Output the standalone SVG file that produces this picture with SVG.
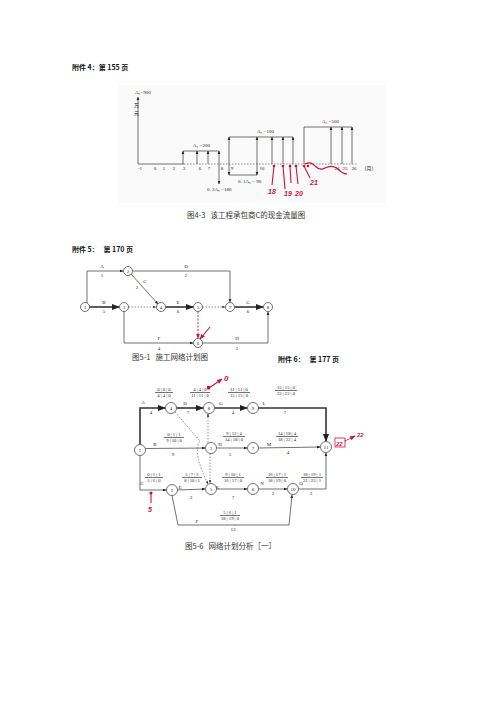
<svg xmlns="http://www.w3.org/2000/svg" width="496" height="702" viewBox="0 0 496 702">
<defs>
<marker id="ah" viewBox="0 0 10 10" refX="9" refY="5" markerWidth="5" markerHeight="5" orient="auto-start-reverse"><path d="M0,1 L10,5 L0,9 z" fill="#222"/></marker>
<marker id="ahr" viewBox="0 0 10 10" refX="9" refY="5" markerWidth="5" markerHeight="5" orient="auto"><path d="M0,1 L10,5 L0,9 z" fill="#d0103a"/></marker>
<style>
.t{font-family:"Liberation Serif","Noto Sans CJK SC",serif;fill:#222}
.h{font-family:"Noto Sans CJK SC",sans-serif;font-weight:bold;font-size:7px;fill:#111;white-space:pre}
.cap{font-family:"Noto Sans CJK SC",sans-serif;font-size:7.5px;fill:#333;white-space:pre}
.s{font-size:5px}
.tb{font-size:4.6px;text-anchor:middle}
.ln{stroke:#333;stroke-width:0.7;fill:none}
.thk{stroke:#333;stroke-width:1.6;fill:none}
.ds{stroke:#444;stroke-width:0.6;fill:none;stroke-dasharray:1.5,1.5}
.nd{fill:#fff;stroke:#333;stroke-width:0.7}
.red{stroke:#d0103a;stroke-width:1.1;fill:none}
.rt{font-family:"Liberation Sans",sans-serif;font-weight:bold;fill:#d0103a;font-style:italic}
</style>
</defs>
<rect width="496" height="702" fill="#fff"/>

<text class="h" x="72" y="70" xml:space="preserve">附件 4：第 155 页</text>

<!-- Diagram 1 : cash flow -->
<g id="cashflow">
<rect x="118" y="85" width="268" height="118" fill="#fafafa"/>
<line class="ln" x1="138" y1="164" x2="138" y2="97" marker-end="url(#ah)"/>
<text class="t s" x="135" y="94">A₀=900</text>
<text class="t s" x="134" y="107">万</text>
<text class="t s" x="134" y="115">元</text>
<line class="ln" x1="138" y1="164" x2="184" y2="164"/>
<line class="ds" x1="184" y1="164" x2="357" y2="164"/>
<g class="t s" text-anchor="middle">
<text x="140" y="170">-1</text><text x="155" y="170">0</text><text x="164" y="170">1</text><text x="174" y="170">2</text>
<text x="184" y="170">3</text><text x="200" y="170">6</text><text x="209" y="170">7</text><text x="222" y="170">8</text>
<text x="232" y="170">9</text><text x="262" y="170">16</text><text x="337" y="170">24</text><text x="345" y="170">25</text>
<text x="354" y="170">26</text><text x="369" y="170">（月）</text>
</g>
<!-- A1 -->
<line class="ln" x1="183" y1="151" x2="219" y2="151"/>
<line class="ln" x1="183" y1="164" x2="183" y2="151" marker-end="url(#ah)"/>
<line class="ln" x1="197" y1="164" x2="197" y2="151" marker-end="url(#ah)"/>
<line class="ln" x1="208" y1="164" x2="208" y2="151" marker-end="url(#ah)"/>
<line class="ln" x1="219" y1="164" x2="219" y2="151" marker-end="url(#ah)"/>
<text class="t s" x="193" y="147">A₁ =200</text>
<line class="ln" x1="219" y1="164" x2="219" y2="184" marker-end="url(#ah)"/>
<text class="t s" x="207" y="191">0. 2A₀ =180</text>
<!-- A2 -->
<line class="ln" x1="229" y1="137" x2="293" y2="137"/>
<line class="ln" x1="229" y1="164" x2="229" y2="137" marker-end="url(#ah)"/>
<line class="ln" x1="257" y1="164" x2="257" y2="137" marker-end="url(#ah)"/>
<line class="ln" x1="272" y1="164" x2="272" y2="137" marker-end="url(#ah)"/>
<line class="ln" x1="283" y1="164" x2="283" y2="137" marker-end="url(#ah)"/>
<line class="ln" x1="293" y1="164" x2="293" y2="137" marker-end="url(#ah)"/>
<text class="t s" x="257" y="133">A₂ =100</text>
<line class="ln" x1="229" y1="175" x2="257" y2="175"/>
<line class="ln" x1="229" y1="164" x2="229" y2="175" marker-end="url(#ah)"/>
<line class="ln" x1="257" y1="164" x2="257" y2="175" marker-end="url(#ah)"/>
<text class="t s" x="238" y="183">0. 1A₀ = 90</text>
<!-- A3 -->
<line class="ln" x1="304" y1="127" x2="352" y2="127"/>
<line class="ln" x1="304" y1="164" x2="304" y2="127"/>
<line class="ln" x1="331" y1="164" x2="331" y2="127" marker-end="url(#ah)"/>
<line class="ln" x1="342" y1="164" x2="342" y2="127" marker-end="url(#ah)"/>
<line class="ln" x1="352" y1="164" x2="352" y2="127" marker-end="url(#ah)"/>
<text class="t s" x="322" y="123">A₃ =500</text>
<!-- red marks -->
<g fill="#d0103a">
<circle cx="274" cy="166" r="1.3"/><circle cx="283" cy="166" r="1.3"/><circle cx="290" cy="166" r="1.3"/><circle cx="296" cy="166" r="1.3"/><circle cx="304" cy="166" r="1.3"/><circle cx="308" cy="166" r="1.3"/>
</g>
<path class="red" d="M274,166 L272,185 M283,166 L285,189 M290,166 L291,183 M296,166 L298,184 M304,166 L310,178 M305,164 q6,-3 10,2 q5,5 10,2 q8,-4 14,2 q4,4 8,4"/>
<text class="rt" x="268" y="194" font-size="7">18</text>
<text class="rt" x="284" y="196" font-size="7">19</text>
<text class="rt" x="295" y="196" font-size="7">20</text>
<text class="rt" x="310" y="185" font-size="7">21</text>
</g>
<text class="cap" x="187" y="218" xml:space="preserve">图4-3   该工程承包商C的现金流量图</text>

<text class="h" x="72" y="252" xml:space="preserve">附件 5：   第 170 页</text>

<!-- Diagram 2 -->
<g id="net1-edges">
<path class="ln" d="M87,303 L87,271 L123,271" marker-end="url(#ah)"/>
<path class="ln" d="M132.5,271 L230,271 L230,302" marker-end="url(#ah)"/>
<path class="ln" d="M131,274 L158,304" marker-end="url(#ah)"/>
<line class="thk" x1="89.5" y1="307" x2="119" y2="307" marker-end="url(#ah)"/>
<line class="ds" x1="128.5" y1="307" x2="156" y2="307" marker-end="url(#ah)"/>
<line class="thk" x1="165.5" y1="307" x2="193" y2="307" marker-end="url(#ah)"/>
<line class="ds" x1="202.5" y1="307" x2="225" y2="307" marker-end="url(#ah)"/>
<line class="thk" x1="234.5" y1="307" x2="263" y2="307" marker-end="url(#ah)"/>
<line x1="198" y1="311.5" x2="198" y2="338" stroke="#d0103a" stroke-width="0.9" stroke-dasharray="2,1.5" marker-end="url(#ahr)"/>
<path class="ln" d="M124,311.5 L124,343 L193,343" marker-end="url(#ah)"/>
<path class="ln" d="M202.5,343 L268,343 L268,312" marker-end="url(#ah)"/>
<line class="red" x1="210" y1="327" x2="200" y2="339" marker-end="url(#ahr)"/>
</g>
<g class="t s" text-anchor="middle">
<text x="102" y="268">A</text><text x="102" y="277">1</text>
<text x="186" y="268">D</text><text x="186" y="277">2</text>
<text x="145" y="283">C</text><text x="137" y="289">2</text>
<text x="104" y="304">B</text><text x="104" y="313">5</text>
<text x="178" y="304">E</text><text x="178" y="313">6</text>
<text x="248" y="304">G</text><text x="248" y="313">6</text>
<text x="159" y="340">F</text><text x="159" y="350">4</text>
<text x="237" y="340">H</text><text x="237" y="350">3</text>
</g>
<g id="n1-1"><circle class="nd" cx="85" cy="307" r="4.5"/><text class="t s" x="85" y="308.8" text-anchor="middle">1</text></g>
<g id="n1-2"><circle class="nd" cx="128" cy="271" r="4.5"/><text class="t s" x="128" y="272.8" text-anchor="middle">2</text></g>
<g id="n1-3"><circle class="nd" cx="124" cy="307" r="4.5"/><text class="t s" x="124" y="308.8" text-anchor="middle">3</text></g>
<g id="n1-4"><circle class="nd" cx="161" cy="307" r="4.5"/><text class="t s" x="161" y="308.8" text-anchor="middle">4</text></g>
<g id="n1-5"><circle class="nd" cx="198" cy="307" r="4.5"/><text class="t s" x="198" y="308.8" text-anchor="middle">5</text></g>
<g id="n1-6"><circle class="nd" cx="198" cy="343" r="4.5"/><text class="t s" x="198" y="344.8" text-anchor="middle">6</text></g>
<g id="n1-7"><circle class="nd" cx="230" cy="307" r="4.5"/><text class="t s" x="230" y="308.8" text-anchor="middle">7</text></g>
<g id="n1-8"><circle class="nd" cx="268" cy="307" r="4.5"/><text class="t s" x="268" y="308.8" text-anchor="middle">8</text></g>
<text class="cap" x="132" y="360" xml:space="preserve">图5-1   施工网络计划图</text>

<text class="h" x="278" y="362" xml:space="preserve">附件 6：   第 177 页</text>

<!-- Diagram 3 -->
<g id="net2-edges">
<path class="thk" d="M140,444.5 L140,408 L165,408" marker-end="url(#ah)"/>
<line class="thk" x1="176.5" y1="408" x2="203" y2="408" marker-end="url(#ah)"/>
<line class="thk" x1="214.5" y1="408" x2="247" y2="408" marker-end="url(#ah)"/>
<path class="thk" d="M258.5,408 L326,408 L326,441" marker-end="url(#ah)"/>
<line class="ln" x1="145.5" y1="448.5" x2="205" y2="448" marker-end="url(#ah)"/>
<line class="ln" x1="217" y1="448" x2="247" y2="448" marker-end="url(#ah)"/>
<line class="ln" x1="258.5" y1="448" x2="320" y2="447" marker-end="url(#ah)"/>
<path class="ln" d="M140,455.5 L140,490 L166,490" marker-end="url(#ah)"/>
<line class="ln" x1="177.5" y1="490" x2="205" y2="489" marker-end="url(#ah)"/>
<line class="ln" x1="217" y1="489" x2="247" y2="489" marker-end="url(#ah)"/>
<line class="ln" x1="258.5" y1="489" x2="287" y2="489" marker-end="url(#ah)"/>
<path class="ln" d="M298.5,489 L326,489 L326,453" marker-end="url(#ah)"/>
<path class="ln" d="M172,495.5 L178,525 L289,525 L292,495" marker-end="url(#ah)"/>
<path class="ds" d="M175,412 L200,441 Q192,452 208,484" marker-end="url(#ah)"/>
<line class="ds" x1="210" y1="453.5" x2="210" y2="483" marker-end="url(#ah)"/>
<line class="ds" x1="208" y1="442.5" x2="208" y2="414" marker-end="url(#ah)"/>
</g>
<g class="t s" text-anchor="middle">
<text x="143" y="404">A</text><text x="151" y="414">4</text>
<text x="185" y="405">D</text><text x="188" y="414">7</text>
<text x="221" y="405">G</text><text x="233" y="414">4</text>
<text x="264" y="405">L</text><text x="285" y="414">7</text>
<text x="155" y="446">B</text><text x="173" y="456">9</text>
<text x="220" y="446">H</text><text x="230" y="456">5</text>
<text x="269" y="446">M</text><text x="288" y="454">4</text>
<text x="142" y="485">C</text>
<text x="180" y="489">E</text><text x="191" y="499">3</text>
<text x="217" y="489">K</text><text x="233" y="499">7</text>
<text x="262" y="485">N</text><text x="273" y="495">2</text>
<text x="301" y="485">Q</text><text x="311" y="495">3</text>
<text x="197" y="523">F</text><text x="233" y="531">13</text>
</g>
<g id="tables" class="t tb">
<text x="164" y="391">0 | 0 | 0</text><text x="164" y="397">4 | 4 | 0</text><line class="ln" x1="155" y1="392.5" x2="173" y2="392.5" stroke-width="0.4"/>
<text x="200" y="391">4 | 4 | 0</text><text x="200" y="397">11 | 11 | 0</text><line class="ln" x1="190" y1="392.5" x2="210" y2="392.5" stroke-width="0.4"/>
<text x="239" y="391">11 | 11 | 0</text><text x="239" y="397">15 | 15 | 0</text><line class="ln" x1="228" y1="392.5" x2="250" y2="392.5" stroke-width="0.4"/>
<text x="286" y="389">15 | 15 | 0</text><text x="286" y="395">22 | 22 | 0</text><line class="ln" x1="275" y1="390.5" x2="297" y2="390.5" stroke-width="0.4"/>
<text x="174" y="436">0 | 1 | 1</text><text x="174" y="442">9 | 10 | 0</text><line class="ln" x1="164" y1="437.5" x2="184" y2="437.5" stroke-width="0.4"/>
<text x="234" y="435">9 | 13 | 4</text><text x="234" y="441">14 | 18 | 0</text><line class="ln" x1="223" y1="436.5" x2="245" y2="436.5" stroke-width="0.4"/>
<text x="287" y="435">14 | 18 | 4</text><text x="287" y="441">18 | 22 | 4</text><line class="ln" x1="276" y1="436.5" x2="298" y2="436.5" stroke-width="0.4"/>
<text x="154" y="476">0 | 1 | 1</text><text x="154" y="482">5 | 6 | 0</text><line class="ln" x1="145" y1="477.5" x2="163" y2="477.5" stroke-width="0.4"/>
<text x="192" y="476">5 | 7 | 2</text><text x="192" y="482">8 | 10 | 1</text><line class="ln" x1="182" y1="477.5" x2="202" y2="477.5" stroke-width="0.4"/>
<text x="233" y="476">9 | 10 | 1</text><text x="233" y="482">16 | 17 | 0</text><line class="ln" x1="222" y1="477.5" x2="244" y2="477.5" stroke-width="0.4"/>
<text x="277" y="476">16 | 17 | 1</text><text x="277" y="482">18 | 19 | 0</text><line class="ln" x1="266" y1="477.5" x2="288" y2="477.5" stroke-width="0.4"/>
<text x="312" y="476">18 | 19 | 1</text><text x="312" y="482">21 | 22 | 1</text><line class="ln" x1="301" y1="477.5" x2="323" y2="477.5" stroke-width="0.4"/>
<text x="230" y="514">5 | 6 | 1</text><text x="230" y="520">18 | 19 | 0</text><line class="ln" x1="220" y1="515.5" x2="240" y2="515.5" stroke-width="0.4"/>
</g>
<g id="n2-1"><circle class="nd" cx="140" cy="450" r="5.5"/><text class="t s" x="140" y="451.8" text-anchor="middle">1</text></g>
<g id="n2-2"><circle class="nd" cx="172" cy="490" r="5.5"/><text class="t s" x="172" y="491.8" text-anchor="middle">2</text></g>
<g id="n2-3"><circle class="nd" cx="211" cy="448" r="5.5"/><text class="t s" x="211" y="449.8" text-anchor="middle">3</text></g>
<g id="n2-4"><circle class="nd" cx="171" cy="408" r="5.5"/><text class="t s" x="171" y="409.8" text-anchor="middle">4</text></g>
<g id="n2-5"><circle class="nd" cx="211" cy="489" r="5.5"/><text class="t s" x="211" y="490.8" text-anchor="middle">5</text></g>
<g id="n2-6"><circle class="nd" cx="253" cy="489" r="5.5"/><text class="t s" x="253" y="490.8" text-anchor="middle">6</text></g>
<g id="n2-7"><circle class="nd" cx="253" cy="448" r="5.5"/><text class="t s" x="253" y="449.8" text-anchor="middle">7</text></g>
<g id="n2-8"><circle class="nd" cx="209" cy="408" r="5.5"/><text class="t s" x="209" y="409.8" text-anchor="middle">8</text></g>
<g id="n2-9"><circle class="nd" cx="253" cy="408" r="5.5"/><text class="t s" x="253" y="409.8" text-anchor="middle">9</text></g>
<g id="n2-10"><circle class="nd" cx="293" cy="489" r="5.5"/><text class="t s" x="293" y="490.8" text-anchor="middle">10</text></g>
<g id="n2-11"><circle class="nd" cx="326" cy="447" r="5.5"/><text class="t s" x="326" y="448.8" text-anchor="middle">11</text></g>
<!-- red annotations -->
<g id="red-notes">
<rect x="207" y="386" width="3" height="3.5" fill="#d0103a"/>
<line class="red" x1="209" y1="388" x2="222" y2="379" marker-end="url(#ahr)"/>
<text class="rt" x="224" y="381" font-size="8">0</text>
<circle cx="151" cy="493" r="1.6" fill="#d0103a"/>
<line class="red" x1="151" y1="494" x2="151" y2="503"/>
<text class="rt" x="148" y="512" font-size="7">5</text>
<rect x="335" y="438" width="10" height="9" fill="none" stroke="#d0103a" stroke-width="0.8"/>
<text class="rt" x="336" y="445.5" font-size="6">22</text>
<line class="red" x1="345" y1="441" x2="355" y2="436" stroke-dasharray="1.5,1" marker-end="url(#ahr)"/>
<text class="rt" x="357" y="437" font-size="6">22</text>
</g>
<text class="cap" x="185" y="549" xml:space="preserve">图5-6   网络计划分析［一］</text>
</svg>
